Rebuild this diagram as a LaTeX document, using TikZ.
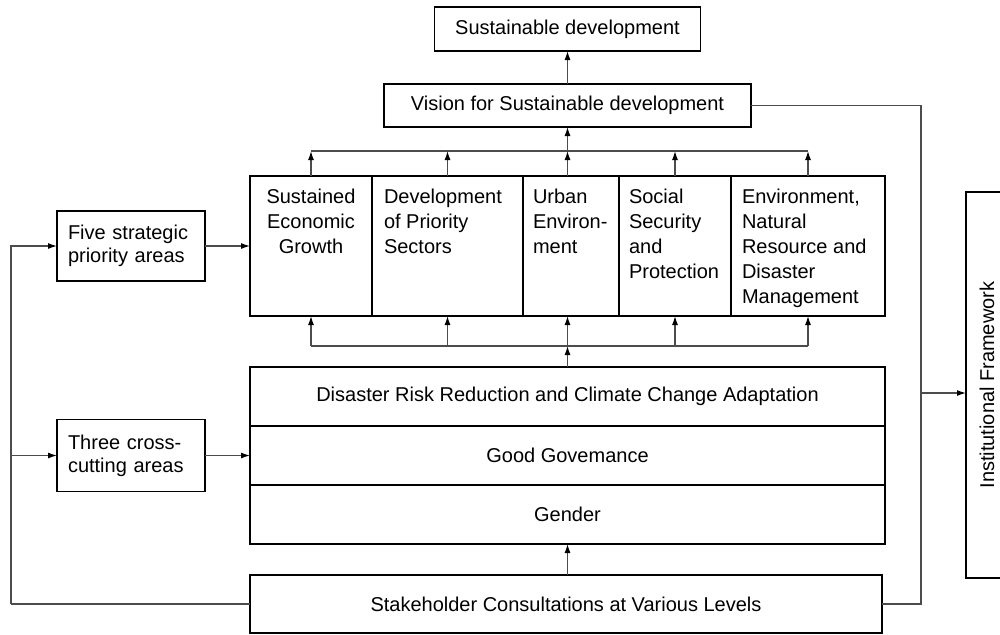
\documentclass[tikz,border=0pt]{standalone}
\usepackage{fontspec}
\setmainfont{Liberation Sans}
\usetikzlibrary{arrows.meta,positioning}

\newcommand{\pillartext}[3]{\parbox[c][60pt][t]{#1}{#2\strut#3}}

\begin{document}
\begin{tikzpicture}[
    x=0.5pt, y=-0.5pt,
    font=\fontsize{10}{12.5}\selectfont,
    frame/.style={rectangle, draw, line width=0.9pt, inner sep=0pt, outer sep=0pt},
    pillar/.style={frame, minimum height=70pt},
    layer/.style={frame, minimum width=317.5pt, minimum height=29.5pt},
    side/.style={frame, minimum width=74pt, text width=63pt, align=left, font=\fontsize{10}{11.5}\selectfont},
    link/.style={draw=black!70, line width=0.6pt},
    arrow/.style={link, -{Latex[length=4.5pt,width=3pt,color=black]}}
]
\useasboundingbox (0,0) rectangle (1000,634);

% Goal and vision (top)
\node[frame, minimum width=133pt, minimum height=22pt] (goal) at (567.5,29) {Sustainable development};
\node[frame, minimum width=183.5pt, minimum height=21.5pt] (vision) at (567.5,105.5) {Vision for Sustainable development};

% Five strategic priority areas (pillars)
\node[pillar, minimum width=61pt] (growth) at (311,246) {\pillartext{55pt}{\centering}{Sustained\\Economic\\Growth}};
\node[pillar, minimum width=75.5pt, right=0pt of growth] (sectors) {\pillartext{63.5pt}{\raggedright}{Development\\of Priority\\Sectors}};
\node[pillar, minimum width=48pt, right=0pt of sectors] (urban) {\pillartext{38pt}{\raggedright}{Urban\\Environ-\\ment}};
\node[pillar, minimum width=56pt, right=0pt of urban] (social) {\pillartext{46pt}{\raggedright}{Social\\Security\\and\\Protection}};
\node[pillar, minimum width=77pt, right=0pt of social] (environ) {\pillartext{66pt}{\raggedright}{Environment,\\Natural\\Resource and\\Disaster\\Management}};

% Cross-cutting layers
\node[layer] (drr) at (567.5,396.5) {Disaster Risk Reduction and Climate Change Adaptation};
\node[layer, below=0pt of drr] (governance) {Good Govemance};
\node[layer, below=0pt of governance] (gender) {Gender};

% Stakeholders (bottom)
\node[frame, minimum width=316pt, minimum height=29pt] (stake) at (566,604) {Stakeholder Consultations at Various Levels};

% Left side boxes
\node[side, minimum height=35pt] (fivebox) at (131,246) {Five strategic\\priority areas};
\node[side, minimum height=36pt] (threebox) at (131,455.5) {Three cross-\\cutting areas};

% Right side
\node[frame, minimum width=21pt, minimum height=193pt] (inst) at (987,385) {\rotatebox{90}{Institutional Framework}};

% Bus points
\coordinate (topbus) at ([yshift=-12pt]vision.south);
\coordinate (botbus) at ([yshift=10.5pt]drr.north);
\coordinate (leftbus) at (11,604);
\coordinate (rightbus) at (921,0);
\coordinate (instin) at ([yshift=-4pt]inst.west);

% Arrows
\draw[arrow] (vision.north) -- (goal.south);
\draw[arrow] (topbus) -- (vision.south);
\draw[link] (growth.north |- topbus) -- (environ.north |- topbus);
\foreach \p in {growth,sectors,social,environ}
    \draw[arrow] (\p.north) -- (\p.north |- topbus);
\draw[arrow] (topbus |- urban.north) -- (topbus);

\draw[arrow] (drr.north) -- (botbus);
\draw[link] (growth.south |- botbus) -- (environ.south |- botbus);
\foreach \p in {growth,sectors,social,environ}
    \draw[arrow] (\p.south |- botbus) -- (\p.south);
\draw[arrow] (botbus) -- (botbus |- urban.south);

\draw[arrow] (gender.south |- stake.north) -- (gender.south);
\draw[arrow] (fivebox.east) -- (growth.west);
\draw[arrow] (threebox.east) -- (governance.west);

\draw[link] (stake.west) -- (leftbus);
\draw[arrow] (leftbus) |- (fivebox.west);
\draw[arrow] (leftbus |- threebox.west) -- (threebox.west);

\draw[link] (vision.east) -| (rightbus |- stake.east) -- (stake.east);
\draw[arrow] (rightbus |- instin) -- (instin);

\end{tikzpicture}
\end{document}
